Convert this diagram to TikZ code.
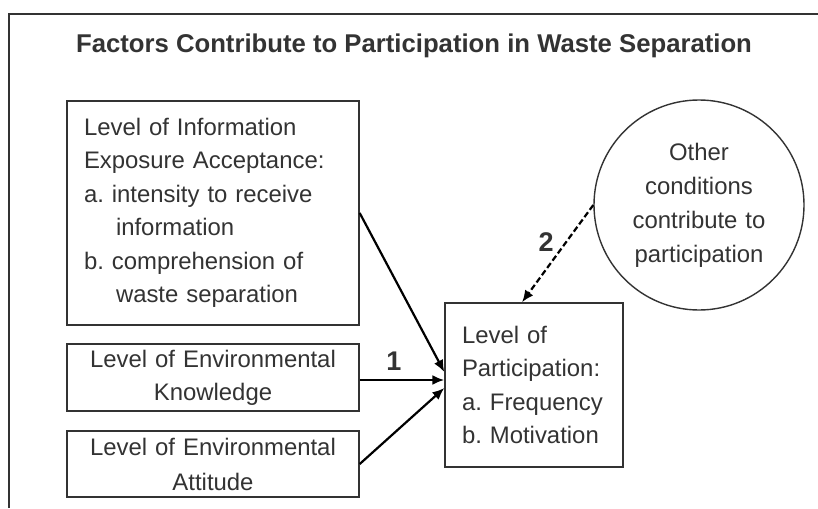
\documentclass[tikz,border=0pt]{standalone}
\usepackage{fontspec}
\setmainfont{Liberation Sans}
\usetikzlibrary{arrows.meta}
\definecolor{ink}{HTML}{333333}
\hbadness=10000 \hfuzz=100pt
\hyphenpenalty=10000 \exhyphenpenalty=10000
\frenchspacing
\begin{document}
\begin{tikzpicture}[x=1pt,y=-1pt,
  txt/.style={font=\fontsize{23.9}{33.5}\selectfont\frenchspacing, text=ink},
  boxnode/.style={draw=ink, line width=1.4pt, rectangle, inner sep=0pt, txt},
  arr/.style={draw=black, line width=2.2pt, -{Latex[length=12pt,width=10pt]}},
  lab/.style={font=\bfseries\fontsize{27}{30}\selectfont, text=ink}]
\useasboundingbox (0,0) rectangle (818,508);
\fill[white] (0,0) rectangle (818,508);
\draw[ink, line width=1.6pt] (9,508) -- (9,14) -- (818,14);
\node[font=\bfseries\fontsize{25.7}{30}\selectfont, text=ink] (title) at (414,46) {Factors Contribute to Participation in Waste Separation};
\node[boxnode, minimum width=292, minimum height=224, text width=258, align=left] (b1) at (213,213)
  {Level of Information\\Exposure Acceptance:\\a. intensity to receive\\\hspace*{32pt}information\\b. comprehension of\\\hspace*{32pt}waste separation};
\node[boxnode, minimum width=292, minimum height=67, text width=270, align=center, font=\fontsize{23.9}{33}\selectfont] (b2) at (213,377.5)
  {Level of Environmental\\Knowledge};
\node[boxnode, minimum width=292, minimum height=66, text width=270, align=center, font=\fontsize{23.9}{35}\selectfont] (b3) at (213,464)
  {Level of Environmental\\Attitude};
\node[boxnode, minimum width=178, minimum height=164, text width=144, align=left] (part) at (534,385)
  {Level of\\Participation:\\a. Frequency\\b. Motivation};
\node[draw=ink, line width=1.4pt, circle, minimum size=210, inner sep=0pt, text width=160, align=center, font=\fontsize{23.9}{34}\selectfont, text=ink] (circ) at (699,205)
  {Other\\conditions\\contribute to\\participation};
\coordinate (t1) at ([yshift=13pt]part.west);
\coordinate (t2) at ([yshift=5pt]part.west);
\coordinate (t3) at ([yshift=-3pt]part.west);
\coordinate (t4) at ([xshift=-12pt]part.north);
\draw[arr] (b1.east) -- (t1);
\draw[arr] (b2.east |- t2) -- (t2);
\draw[arr] (b3.east) -- (t3);
\draw[arr, dash pattern=on 6pt off 3pt] (circ.west) -- (t4);
\node[lab] (l1) at (394,361) {1};
\node[lab] (l2) at (546,242) {2};
\end{tikzpicture}
\end{document}
